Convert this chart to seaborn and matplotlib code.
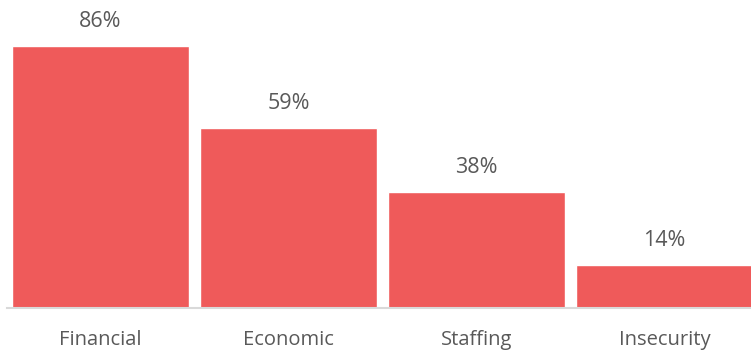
import matplotlib
matplotlib.use("Agg")
import matplotlib.pyplot as plt
import seaborn as sns
import pandas as pd

categories = ["Financial", "Economic", "Staffing", "Insecurity"]
values = [86, 59, 38, 14]
labels = ["86%", "59%", "38%", "14%"]

sns.set_theme(style="white")
plt.rcParams['font.family'] = ['Open Sans', 'DejaVu Sans']

df = pd.DataFrame({"category": categories, "value": values})

W, H = 751, 352
fig = plt.figure(figsize=(W / 100, H / 100), dpi=100)
ax = fig.add_axes([6.5 / W, 44 / H, 752 / W, 308 / H])

sns.barplot(data=df, x="category", y="value", color="#EF5A5A", saturation=1,
            width=0.94, ax=ax)

ax.set_xlim(-0.5, 3.5)
ax.set_ylim(0, 101)
ax.set_xlabel("")
ax.set_ylabel("")
ax.set_yticks([])
for s in ["top", "right", "left"]:
    ax.spines[s].set_visible(False)
ax.spines["bottom"].set_color("#D9D9D9")
ax.spines["bottom"].set_linewidth(1.5)
ax.tick_params(axis="x", length=0, pad=16, labelsize=14.5, labelcolor="#595959")

for container in ax.containers:
    ax.bar_label(container, labels=labels, padding=10, fontsize=15.5, color="#595959")

fig.savefig("out.png", dpi=100)
